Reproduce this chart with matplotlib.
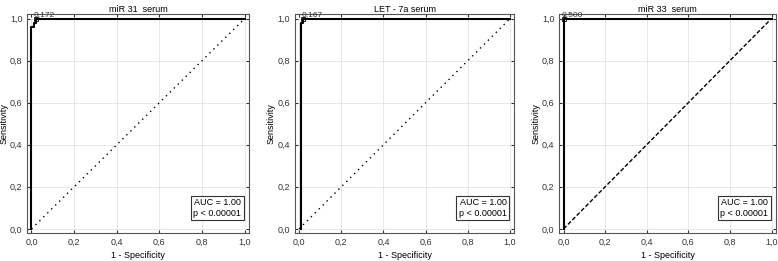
import matplotlib
matplotlib.use("Agg")
import matplotlib.pyplot as plt
from matplotlib.ticker import FuncFormatter

plt.rcParams['font.family'] = ['Liberation Sans', 'DejaVu Sans']

titles = ["miR 31  serum", "LET - 7a serum", "miR 33  serum"]
cutoffs = ["0,172", "0,167", "0,500"]
fpr_31 = [0.0, 0.0, 0.01, 0.01, 0.02, 0.02, 1.0]
tpr_31 = [0.0, 0.96, 0.96, 0.98, 0.98, 1.0, 1.0]
fpr_let = [0.01, 0.01, 0.02, 0.02, 1.0]
tpr_let = [0.0, 0.98, 0.98, 1.0, 1.0]
fpr_33 = [0.0, 0.0, 1.0]
tpr_33 = [0.0, 1.0, 1.0]
auc_text = "AUC = 1.00\np < 0.00001"
ticks = [0.0, 0.2, 0.4, 0.6, 0.8, 1.0]

curves = [(fpr_31, tpr_31), (fpr_let, tpr_let), (fpr_33, tpr_33)]
diag_styles = [(0, (1, 3)), (0, (1, 3)), (0, (3, 1.5))]
lefts = [0.035, 0.379, 0.719]
widths = [0.285, 0.282, 0.278]

fig = plt.figure(figsize=(7.78, 2.61), dpi=100)
fmt = FuncFormatter(lambda v, p: ("%.1f" % v).replace(".", ","))

for i in range(3):
    ax = fig.add_axes([lefts[i], 0.107, widths[i], 0.838])
    fx, ty = curves[i]
    ax.plot([0, 1], [0, 1], color="black", lw=1.0, linestyle=diag_styles[i])
    ax.plot(fx, ty, color="black", lw=1.5)
    ax.plot([fx[-2]], [1.0], marker="s", ms=2.5, mfc="none", mec="black", mew=0.6)
    ax.text(fx[-2] - 0.01, 1.003, cutoffs[i], fontsize=6, ha="left", va="bottom", color="#333333")
    ax.set_xlim(-0.02, 1.02)
    ax.set_ylim(-0.02, 1.02)
    ax.set_xticks(ticks)
    ax.set_yticks(ticks)
    ax.xaxis.set_major_formatter(fmt)
    ax.yaxis.set_major_formatter(fmt)
    ax.tick_params(labelsize=6.5, length=2, direction="in", top=True, right=True, colors="#333333")
    ax.grid(True, color="#e4e4e4", lw=0.6)
    ax.set_axisbelow(True)
    for s in ax.spines.values():
        s.set_color("#555555")
        s.set_linewidth(0.8)
    ax.set_title(titles[i], fontsize=6.5, pad=2)
    ax.set_xlabel("1 - Specificity", fontsize=6.5, labelpad=3)
    ax.set_ylabel("Sensitivity", fontsize=6.5, labelpad=1)
    ax.text(0.965, 0.07, auc_text, transform=ax.transAxes, fontsize=6.5, ha="right", va="bottom",
            linespacing=1.2,
            bbox=dict(boxstyle="square,pad=0.3", fc="white", ec="#333333", lw=0.8))

fig.savefig("out.png", dpi=100)
